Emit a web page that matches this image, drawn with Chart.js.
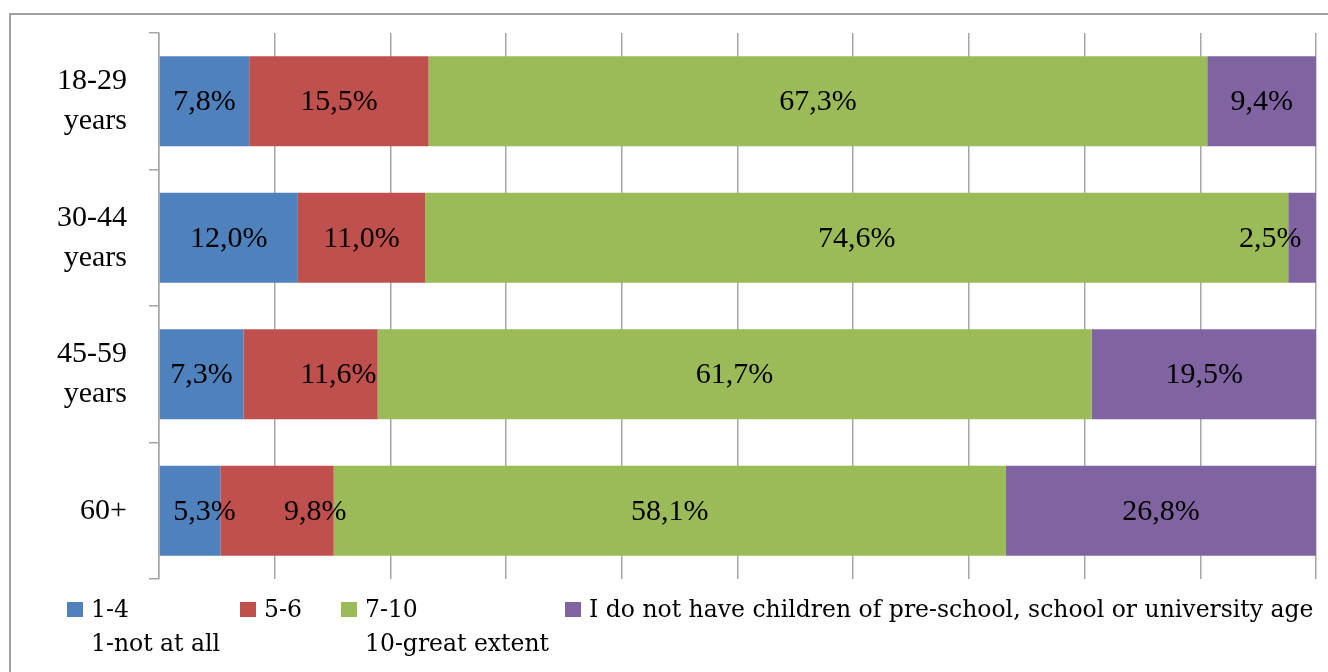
<!DOCTYPE html>
<html>
<head>
<meta charset="utf-8">
<script src="https://cdn.jsdelivr.net/npm/chart.js@4/dist/chart.umd.min.js"></script>
<style>
html,body{margin:0;padding:0;background:#fff;}
#wrap{width:1328px;height:672px;position:relative;}
canvas{display:block;}
</style>
</head>
<body>
<div id="wrap"><canvas id="c" width="1328" height="672"></canvas></div>
<script>
// ---- data ----
const categories = [["18-29", "years"], ["30-44", "years"], ["45-59", "years"], ["60+"]];
const seriesNames = ["1-4", "5-6", "7-10", "I do not have children of pre-school, school or university age"];
const seriesSubtitles = ["1-not at all", "", "10-great extent", ""];
const values1to4 = [7.8, 12.0, 7.3, 5.3];
const values5to6 = [15.5, 11.0, 11.6, 9.8];
const values7to10 = [67.3, 74.6, 61.7, 58.1];
const valuesNoChildren = [9.4, 2.5, 19.5, 26.8];
const xMin = 0, xMax = 100, xStep = 10;

const colors = ["#4F81BD", "#C0504D", "#9BBB59", "#8064A2"];
const FONT = "'Liberation Serif', 'Times New Roman', serif";
const LEGEND_FONT = "'DejaVu Serif', serif";
const GRID = "#a6a6a6";

// label nudges in value units (dataset index - category index -> shift)
const labelNudge = { "1-2": 2.4, "0-3": 1.25, "1-3": 3.3, "3-1": -2.8 };

const frameAndLegend = {
  id: "frameAndLegend",
  beforeDraw(chart) {
    const ctx = chart.ctx;
    ctx.save();
    ctx.fillStyle = "#fff";
    ctx.fillRect(0, 0, chart.width, chart.height);
    ctx.strokeStyle = "#a0a0a0";
    ctx.lineWidth = 2;
    ctx.beginPath();
    ctx.moveTo(10, chart.height + 5);
    ctx.lineTo(10, 14);
    ctx.lineTo(chart.width + 5, 14);
    ctx.stroke();
    ctx.restore();
  },
  afterDraw(chart) {
    const ctx = chart.ctx;
    const boxX = [67, 240, 341, 565];
    ctx.save();
    ctx.font = "23.5px " + LEGEND_FONT;
    ctx.textBaseline = "middle";
    ctx.textAlign = "left";
    chart.data.datasets.forEach((ds, i) => {
      ctx.fillStyle = ds.backgroundColor;
      ctx.fillRect(boxX[i], 602, 16, 15);
      ctx.fillStyle = "#000";
      ctx.fillText(ds.label, boxX[i] + 24, 611);
      if (seriesSubtitles[i]) ctx.fillText(seriesSubtitles[i], boxX[i] + 24, 645);
    });
    ctx.restore();
  }
};

const barLabels = {
  id: "barLabels",
  afterDatasetsDraw(chart) {
    const ctx = chart.ctx;
    const xs = chart.scales.x;
    const pxPerUnit = (xs.getPixelForValue(1) - xs.getPixelForValue(0));
    ctx.save();
    ctx.font = "30px " + FONT;
    ctx.fillStyle = "#000";
    ctx.textAlign = "center";
    ctx.textBaseline = "middle";
    chart.data.datasets.forEach((ds, di) => {
      const meta = chart.getDatasetMeta(di);
      meta.data.forEach((el, i) => {
        const v = ds.data[i];
        const txt = v.toFixed(1).replace(".", ",") + "%";
        let cx = (el.x + el.base) / 2;
        const n = labelNudge[di + "-" + i];
        if (n) cx += n * pxPerUnit;
        ctx.fillText(txt, cx, el.y + 1);
      });
    });
    ctx.restore();
  }
};

const ticksX = [];
for (let v = xMin; v <= xMax; v += xStep) ticksX.push(v);

new Chart(document.getElementById("c"), {
  type: "bar",
  data: {
    labels: categories,
    datasets: [
      { label: seriesNames[0], data: values1to4, backgroundColor: colors[0] },
      { label: seriesNames[1], data: values5to6, backgroundColor: colors[1] },
      { label: seriesNames[2], data: values7to10, backgroundColor: colors[2] },
      { label: seriesNames[3], data: valuesNoChildren, backgroundColor: colors[3] }
    ]
  },
  options: {
    indexAxis: "y",
    responsive: false,
    animation: false,
    devicePixelRatio: 1,
    layout: { padding: { left: 0, right: 12, top: 33, bottom: 93 } },
    datasets: { bar: { barPercentage: 0.66, categoryPercentage: 1, borderWidth: 0 } },
    plugins: { legend: { display: false }, tooltip: { enabled: false } },
    scales: {
      x: {
        stacked: true,
        min: xMin, max: xMax,
        afterBuildTicks(s) { s.ticks = ticksX.map(v => ({ value: v })); },
        ticks: { display: false },
        grid: { color: GRID, lineWidth: 1.5, drawTicks: false },
        border: { display: false },
        afterFit(s) { s.height = 0; s.paddingLeft = 0; s.paddingRight = 0; }
      },
      y: {
        stacked: true,
        ticks: { color: "#000", font: { family: FONT, size: 30, lineHeight: 1.33 }, padding: 22 },
        grid: { drawOnChartArea: false, drawTicks: true, tickLength: 10, color: GRID, lineWidth: 1.5, offset: true },
        border: { display: true, color: GRID, width: 1.5 },
        afterFit(s) { s.width = 159; s.paddingTop = 0; s.paddingBottom = 0; }
      }
    }
  },
  plugins: [frameAndLegend, barLabels]
});
</script>
</body>
</html>
